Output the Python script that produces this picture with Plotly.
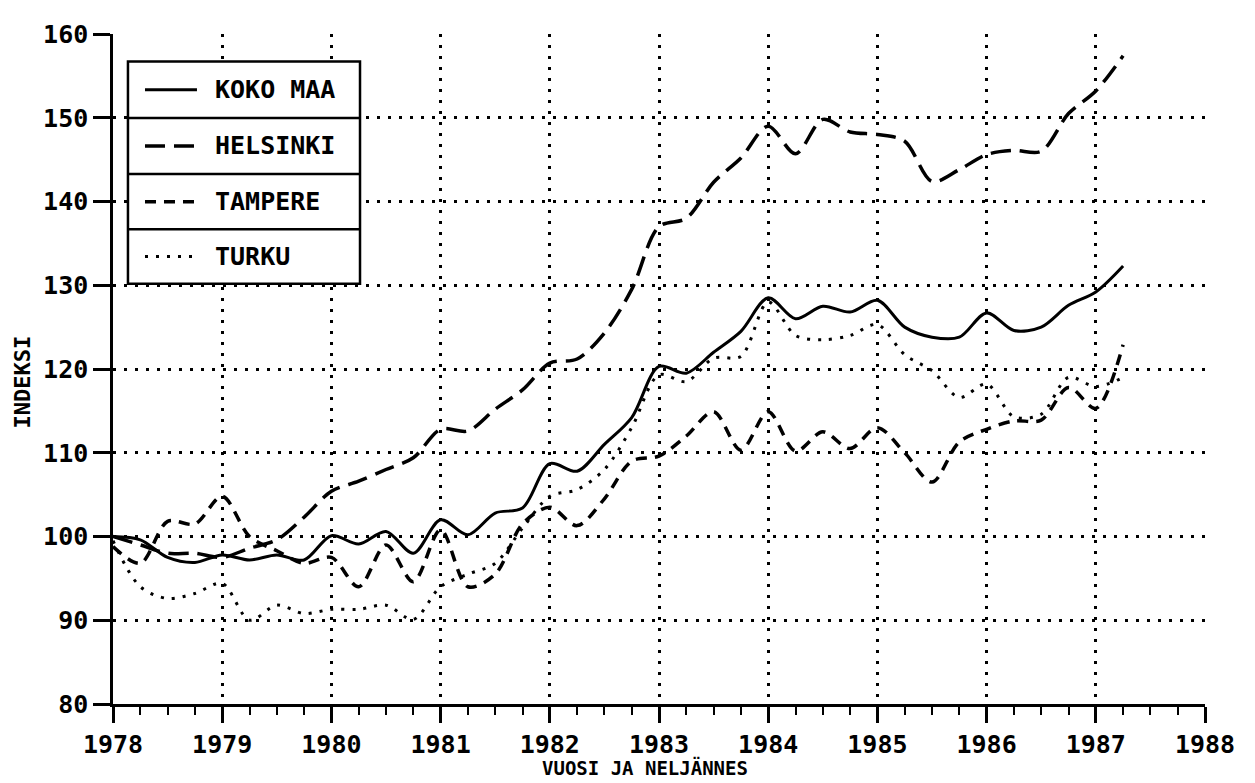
import plotly.graph_objects as go

# quarters 1978 I ... 1987 II
quarters = [1978 + 0.25 * i for i in range(38)]

koko_maa = [100.0, 99.6, 97.5, 96.9, 97.8, 97.2, 97.8, 97.2,
            100.1, 99.1, 100.6, 98.0, 102.0, 100.2, 102.8, 103.4,
            108.7, 107.8, 111.0, 114.2, 120.3, 119.5, 122.0, 124.5,
            128.5, 126.0, 127.5, 126.8, 128.2, 125.0, 123.8, 123.8,
            126.7, 124.6, 125.0, 127.6, 129.2, 132.3]

helsinki = [100.0, 99.0, 98.0, 98.0, 97.5, 98.6, 99.6, 102.3,
            105.4, 106.6, 108.0, 109.4, 112.8, 112.6, 115.2, 117.5,
            120.7, 121.2, 124.3, 129.5, 137.0, 138.0, 142.3, 145.2,
            149.0, 145.7, 149.8, 148.3, 148.0, 147.2, 142.4, 143.8,
            145.6, 146.1, 146.0, 150.5, 153.2, 157.4]

tampere = [98.8, 96.8, 101.8, 101.5, 104.8, 100.0, 98.3, 96.8,
           97.5, 94.0, 99.0, 94.6, 100.8, 94.0, 95.5, 101.5,
           103.5, 101.3, 104.5, 109.0, 109.6, 112.0, 114.9, 110.3,
           114.9, 110.2, 112.5, 110.5, 113.0, 110.0, 106.5, 111.3,
           112.8, 113.8, 113.9, 117.8, 115.3, 122.9]

turku = [99.5, 94.0, 92.6, 93.2, 94.4, 90.0, 91.8, 90.8,
         91.3, 91.3, 91.8, 90.1, 94.0, 95.5, 96.8, 101.0,
         104.8, 105.6, 108.0, 113.0, 119.3, 118.5, 121.3, 121.5,
         128.0, 124.0, 123.5, 124.0, 125.3, 121.7, 119.8, 116.6,
         118.2, 114.3, 114.6, 119.0, 117.9, 119.0]

series_names = ["KOKO MAA", "HELSINKI", "TAMPERE", "TURKU"]
year_ticks = list(range(1978, 1989))
index_ticks = list(range(80, 161, 10))

FONT = "DejaVu Sans Mono"
dashes = ["solid", "20px,9px", "11px,8px", "3px,8px"]
widths = [3, 3.5, 3.5, 3]

fig = go.Figure()
for name, vals, dash, w in zip(series_names, [koko_maa, helsinki, tampere, turku], dashes, widths):
    fig.add_trace(go.Scatter(
        x=quarters, y=vals, name=name, mode="lines",
        line=dict(color="black", width=w, dash=dash, shape="spline", smoothing=0.9),
        showlegend=False,
    ))

# legend drawn as a box with row separators, like the original plotter output
box_x0, box_x1 = 0.0137, 0.2262
row_edges = [0.9588, 0.8748, 0.7909, 0.7084, 0.6274]
shapes = [dict(type="rect", xref="paper", yref="paper", x0=box_x0, x1=box_x1,
               y0=row_edges[-1], y1=row_edges[0], fillcolor="white",
               line=dict(color="black", width=2.5), layer="above")]
for yy in row_edges[1:-1]:
    shapes.append(dict(type="line", xref="paper", yref="paper", x0=box_x0, x1=box_x1,
                       y0=yy, y1=yy, line=dict(color="black", width=2.5), layer="above"))
annotations = []
for i, (name, dash, w) in enumerate(zip(series_names, dashes, widths)):
    yc = (row_edges[i] + row_edges[i + 1]) / 2
    shapes.append(dict(type="line", xref="paper", yref="paper", x0=0.0293, x1=0.0769,
                       y0=yc, y1=yc, line=dict(color="black", width=w, dash=dash), layer="above"))
    annotations.append(dict(xref="paper", yref="paper", x=0.0916, y=yc, text=name,
                            showarrow=False, xanchor="left", yanchor="middle",
                            font=dict(family=FONT, size=25, color="black", weight="bold")))

# axis titles (plot area spans 113..1205 x 25..704 on screen)
annotations.append(dict(xref="paper", yref="paper", x=(22 - 113) / 1092, y=0.48, text="INDEKSI",
                        textangle=-90, showarrow=False, xanchor="center", yanchor="middle",
                        font=dict(family=FONT, size=22, color="black", weight="bold")))
annotations.append(dict(xref="paper", yref="paper", x=(645 - 113) / 1092, y=(704 - 768) / 679,
                        text="VUOSI JA NELJÄNNES", showarrow=False, xanchor="center",
                        yanchor="middle",
                        font=dict(family=FONT, size=19, color="black", weight="bold")))

fig.update_layout(
    width=1255, height=783,
    margin=dict(l=105, r=58, t=17, b=87),
    paper_bgcolor="white", plot_bgcolor="white",
    shapes=shapes, annotations=annotations,
    font=dict(family=FONT, color="black"),
)
fig.update_xaxes(
    range=[1978, 1988], tickvals=year_ticks, ticktext=[str(y) for y in year_ticks],
    showline=True, linecolor="black", linewidth=2.5,
    ticks="outside", ticklen=16, tickwidth=2.5, tickcolor="black",
    tickfont=dict(family=FONT, size=25, color="black", weight="bold"),
    showgrid=True, gridcolor="black", gridwidth=2.5, griddash="3px,8px",
    minor=dict(dtick=0.25, tick0=1978, ticks="outside", ticklen=8, tickwidth=2,
               tickcolor="black", showgrid=False),
    zeroline=False,
)
fig.update_yaxes(
    range=[80, 160], tickvals=index_ticks,
    showline=True, linecolor="black", linewidth=2.5,
    ticks="outside", ticklen=17, tickwidth=2.5, tickcolor="black",
    tickfont=dict(family=FONT, size=25, color="black", weight="bold"),
    showgrid=True, gridcolor="black", gridwidth=2.5, griddash="3px,8px",
    zeroline=False,
)

fig.write_html("out.html")
